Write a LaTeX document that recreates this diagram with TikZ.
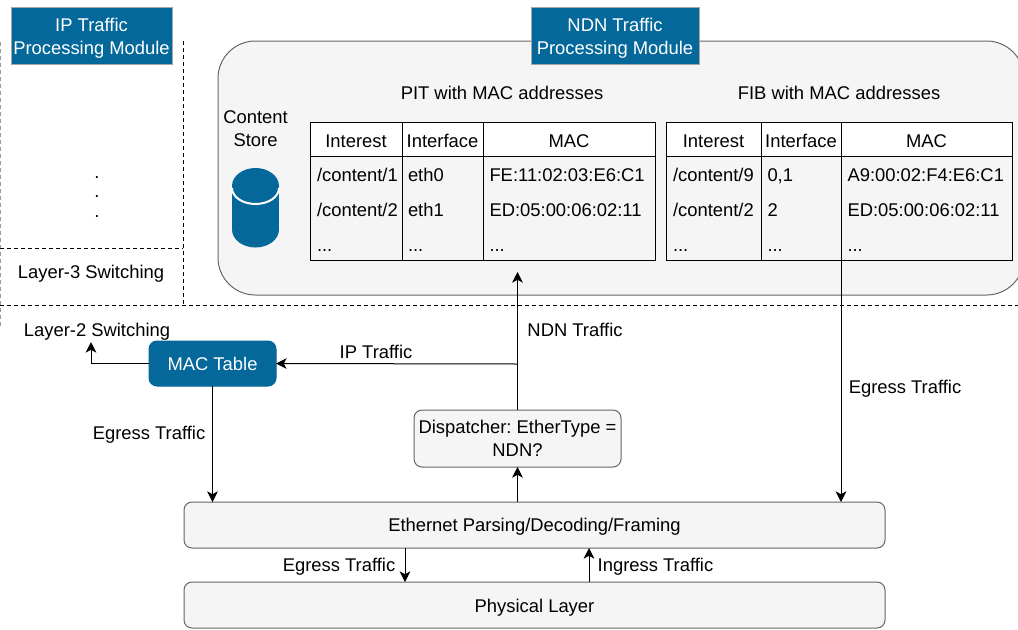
\documentclass[tikz,border=0pt]{standalone}
\usepackage{fontspec}
\setmainfont{Liberation Sans}
\usetikzlibrary{arrows.meta}
\definecolor{bluefill}{HTML}{04689A}
\definecolor{panelfill}{HTML}{F5F5F5}
\definecolor{panelline}{HTML}{666666}
\def\u{.75pt}
\newcommand{\lowerby}[2]{\raisebox{-#1}[\height][\depth]{#2}}
\frenchspacing
\tikzset{
  base/.style={inner sep=0pt,outer sep=0pt,font=\fontsize{13.8}{17.25}\selectfont,align=center,text=black},
  size/.style 2 args={minimum width=#1*\u,minimum height=#2*\u},
  label/.style={base,anchor=base},
  lefttext/.style={base,anchor=base west},
  bluebox/.style={base,fill=bluefill,draw=black!35,line width=.75pt,text=white},
  bluerbox/.style={base,fill=bluefill,draw=bluefill,line width=.75pt,text=white,rounded corners=6pt},
  greybox/.style={base,fill=panelfill,draw=panelline,line width=.75pt,rounded corners=6pt},
  headcell/.style={base,fill=white,draw=black,line width=.75pt},
  bodycell/.style={base,draw=black,line width=.75pt},
  sep/.style={black,dash pattern=on 3pt off 2.25pt,line width=.75pt},
  sepgrey/.style={black!40,dash pattern=on 3pt off 2.25pt,line width=.75pt},
  conn/.style={black,line width=.75pt,-{Stealth[length=8pt,width=8pt,inset=2.2pt]}},
}
\begin{document}
\begin{tikzpicture}[x=.75pt,y=-.75pt]
\useasboundingbox (0,0) rectangle (1018,629);
% panel
\begin{scope}
\clip (0,0) rectangle (1018,629);
\node[greybox,size={806}{254},rounded corners=28pt] (panel) at (621,168) {};
\end{scope}
% separators
\draw[sepgrey] (0,42) -- (0,329);
\draw[sep] (183,41) -- (183,305);
\draw[sep] (0,248) -- (183,248);
\draw[sep] (0,305) -- (1018,305);
% heading boxes
\node[bluebox,size={161}{57}] (ip) at (91.5,35.5) {\lowerby{2.25pt}{IP Traffic}\\\lowerby{2.25pt}{Processing Module}};
\node[bluebox,size={168}{57}] (ndn) at (615,35.5) {\lowerby{2.25pt}{NDN Traffic}\\\lowerby{2.25pt}{Processing Module}};
% dots and left labels
\node[label] (d1) at (97,178) {.};
\node[label] (d2) at (97,197.5) {.};
\node[label] (d3) at (97,217) {.};
\node[label] (l3) at (91,278) {Layer-3 Switching};
\node[label] (l2) at (97,336) {Layer-2 Switching};
% content store
\node[base] (cs) at (255.5,128.5) {Content\\Store};
\fill[bluefill] (255.5,186) ellipse[x radius=23.5,y radius=18];
\fill[bluefill] (255.5,229.5) ellipse[x radius=23.5,y radius=18];
\fill[bluefill] (232,186) rectangle (279,229.5);
\draw[white,line width=1.5pt] (232,188) arc[start angle=180,end angle=0,x radius=23.5,y radius=16];
% table titles
\node[label] (pit) at (502,99) {PIT with MAC addresses};
\node[label] (fib) at (839,99) {FIB with MAC addresses};
% PIT
\node[headcell,size={92}{34}] (p1) at (356,139) {\lowerby{1.5pt}{Interest}};
\node[headcell,size={81}{34}] (p2) at (442.5,139) {\lowerby{1.5pt}{Interface}};
\node[headcell,size={172}{34}] (p3) at (569,139) {\lowerby{1.5pt}{MAC}};
\node[bodycell,size={92}{104}] (pb1) at (356,208) {};
\node[bodycell,size={81}{104}] (pb2) at (442.5,208) {};
\node[bodycell,size={172}{104}] (pb3) at (569,208) {};
\node[lefttext] (pa1) at (317,181) {/content/1};
\node[lefttext] (pa2) at (317,216) {/content/2};
\node[lefttext] (pa3) at (317,251) {...};
\node[lefttext] (pc1) at (408,181) {eth0};
\node[lefttext] (pc2) at (408,216) {eth1};
\node[lefttext] (pc3) at (408,251) {...};
\node[lefttext] (pd1) at (489.5,181) {FE:11:02:03:E6:C1};
\node[lefttext] (pd2) at (489.5,216) {ED:05:00:06:02:11};
\node[lefttext] (pd3) at (489.5,251) {...};
% FIB
\node[headcell,size={95}{34}] (f1) at (713.5,139) {\lowerby{1.5pt}{Interest}};
\node[headcell,size={80}{34}] (f2) at (801,139) {\lowerby{1.5pt}{Interface}};
\node[headcell,size={171}{34}] (f3) at (926.5,139) {\lowerby{1.5pt}{MAC}};
\node[bodycell,size={95}{104}] (fb1) at (713.5,208) {};
\node[bodycell,size={80}{104}] (fb2) at (801,208) {};
\node[bodycell,size={171}{104}] (fb3) at (926.5,208) {};
\node[lefttext] (fa1) at (673,181) {/content/9};
\node[lefttext] (fa2) at (673,216) {/content/2};
\node[lefttext] (fa3) at (673,251) {...};
\node[lefttext] (fc1) at (767.5,181) {0,1};
\node[lefttext] (fc2) at (767.5,216) {2};
\node[lefttext] (fc3) at (767.5,251) {...};
\node[lefttext] (fd1) at (847.5,181) {A9:00:02:F4:E6:C1};
\node[lefttext] (fd2) at (847.5,216) {ED:05:00:06:02:11};
\node[lefttext] (fd3) at (847.5,251) {...};
% lower boxes
\node[bluerbox,size={127}{45}] (mac) at (212.5,363.5) {\lowerby{.2pt}{MAC Table}};
\node[greybox,size={207}{57}] (disp) at (517.5,438.5) {Dispatcher: EtherType =\\NDN?};
\node[greybox,size={701}{46}] (eth) at (534.5,525) {\lowerby{1.5pt}{Ethernet Parsing/Decoding/Framing}};
\node[greybox,size={701}{46}] (phy) at (534.5,605) {\lowerby{2pt}{Physical Layer}};
% free ends
\coordinate (pitin) at (517.5,272);
\coordinate (branch) at (517.5,364);
\coordinate (l2end) at (91,342);
\coordinate (fibout) at (841,260);
\coordinate (egtop) at (405,548);
\coordinate (egbot) at (405,582);
\coordinate (intop) at (589,548);
\coordinate (inbot) at (589,582);
% connectors
\draw[conn] (disp.north) -- (pitin);
\draw[conn] (branch) -- (mac.east);
\draw[conn] (mac.west) -| (l2end);
\draw[conn] (mac.south) -- (mac.south |- eth.north);
\draw[conn] (eth.north -| disp.south) -- (disp.south);
\draw[conn] (fibout) -- (fibout |- eth.north);
\draw[conn] (egtop) -- (egbot);
\draw[conn] (inbot) -- (intop);
% connector labels
\node[label] (tip) at (376,358) {IP Traffic};
\node[label] (tndn) at (575,336) {NDN Traffic};
\node[label] (teg1) at (149,439) {Egress Traffic};
\node[label] (teg2) at (905,393) {Egress Traffic};
\node[label] (teg3) at (339,571) {Egress Traffic};
\node[label] (ting) at (655.5,571) {Ingress Traffic};
\end{tikzpicture}
\end{document}
